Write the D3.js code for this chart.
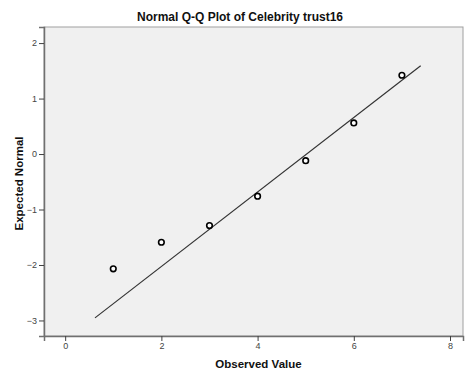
<!DOCTYPE html>
<html>
<head>
<meta charset="utf-8">
<script src="https://cdn.jsdelivr.net/npm/d3@7"></script>
<style>
  body { margin: 0; background: #fff; }
  svg { display: block; font-family: "Liberation Sans", Arial, sans-serif; }
</style>
</head>
<body>
<svg id="chart" width="465" height="373"></svg>
<script>
// Observed values and their expected normal quantiles
const observed = [1, 2, 3, 4, 5, 6, 7];
const expected = [-2.07, -1.59, -1.29, -0.76, -0.12, 0.56, 1.42];

// Reference line: standardized normal, (x - mean) / sd
const refMean = 5.02;
const refSd = 1.49;
const refRange = [0.62, 7.39];

const xTicks = [0, 2, 4, 6, 8];
const yTicks = [-3, -2, -1, 0, 1, 2];

const title = "Normal Q-Q Plot of Celebrity trust16";
const xLabel = "Observed Value";
const yLabel = "Expected Normal";

const svg = d3.select("#chart");
const plot = { left: 44, top: 27, right: 463, bottom: 336 };

const x = d3.scaleLinear().domain([-0.44, 8.27]).range([plot.left, plot.right]);
const y = d3.scaleLinear().domain([-3.28, 2.29]).range([plot.bottom, plot.top]);

// Plot background
svg.append("rect")
  .attr("x", plot.left).attr("y", plot.top)
  .attr("width", plot.right - plot.left).attr("height", plot.bottom - plot.top)
  .attr("fill", "#f0f0f0")
  .attr("stroke", "#a0a0a0").attr("stroke-width", 1);

// Axes
const xAxis = svg.append("g")
  .attr("transform", `translate(0,${plot.bottom})`)
  .call(d3.axisBottom(x).tickValues(xTicks).tickFormat(d3.format("d")).tickSize(5).tickPadding(2));
const yAxis = svg.append("g")
  .attr("transform", `translate(${plot.left},0)`)
  .call(d3.axisLeft(y).tickValues(yTicks).tickFormat(d3.format("d")).tickSize(5).tickPadding(2));

[xAxis, yAxis].forEach(g => {
  g.select(".domain").attr("stroke", "#707070").attr("stroke-width", 1.5);
  g.selectAll(".tick line").attr("stroke", "#404040");
  g.selectAll(".tick text")
    .attr("fill", "#444")
    .style("font-size", "9px")
    .style("font-family", "'Liberation Sans', Arial, sans-serif");
});

// Reference line
svg.append("line")
  .attr("x1", x(refRange[0])).attr("y1", y((refRange[0] - refMean) / refSd))
  .attr("x2", x(refRange[1])).attr("y2", y((refRange[1] - refMean) / refSd))
  .attr("stroke", "#333").attr("stroke-width", 1.2);

// Points
svg.append("g").selectAll("circle")
  .data(observed)
  .join("circle")
  .attr("cx", (d) => x(d))
  .attr("cy", (d, i) => y(expected[i]))
  .attr("r", 2.8)
  .attr("fill", "#fff")
  .attr("stroke", "#000")
  .attr("stroke-width", 1.6);

// Titles
svg.append("text")
  .attr("x", 240).attr("y", 21)
  .attr("text-anchor", "middle")
  .style("font-size", "12px").style("font-weight", "bold")
  .attr("fill", "#111")
  .text(title);

svg.append("text")
  .attr("x", (plot.left + plot.right) / 2 + 5).attr("y", 368)
  .attr("text-anchor", "middle")
  .style("font-size", "11.5px").style("font-weight", "bold")
  .attr("fill", "#111")
  .text(xLabel);

svg.append("text")
  .attr("transform", `translate(23,${(plot.top + plot.bottom) / 2 + 2}) rotate(-90)`)
  .attr("text-anchor", "middle")
  .style("font-size", "11.5px").style("font-weight", "bold")
  .attr("fill", "#111")
  .text(yLabel);
</script>
</body>
</html>
